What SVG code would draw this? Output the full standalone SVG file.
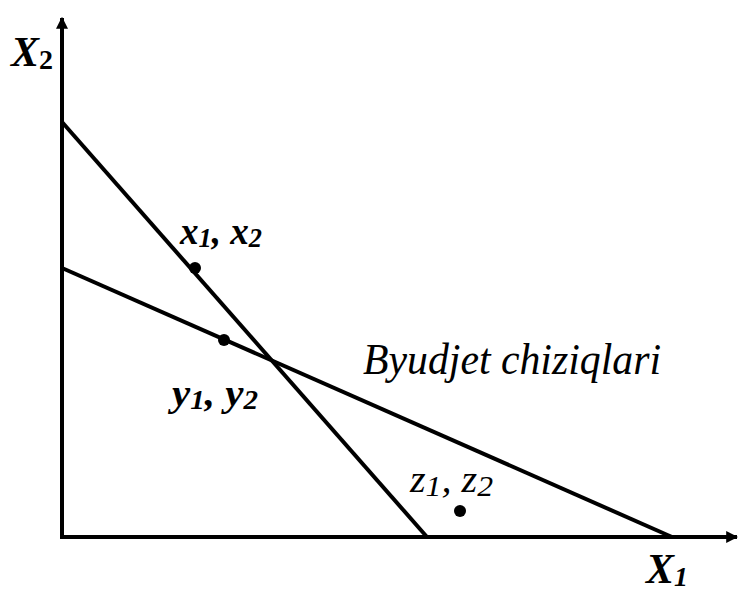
<svg xmlns="http://www.w3.org/2000/svg" width="739" height="591" viewBox="0 0 739 591">
<style>
.ax{stroke:#000;stroke-width:4;fill:none}
.ln{stroke:#000;stroke-width:4;fill:none}
.bi{font-family:"Liberation Serif","Times New Roman",serif;font-weight:bold;font-style:italic;fill:#000}
.it{font-family:"Liberation Serif","Times New Roman",serif;font-style:italic;fill:#000}
</style>
<defs>
<marker id="ah" viewBox="0 0 10 10" refX="9" refY="5" markerWidth="3" markerHeight="3" orient="auto" markerUnits="strokeWidth">
<path d="M0,0 L10,5 L0,10 Z" fill="#000"/>
</marker>
</defs>
<rect width="739" height="591" fill="#fff"/>
<g id="connectors">
<line class="ax" x1="62" y1="539" x2="62" y2="18" marker-end="url(#ah)"/>
<line class="ax" x1="60" y1="537" x2="737" y2="537" marker-end="url(#ah)"/>
<line class="ln" x1="62" y1="122" x2="427" y2="537"/>
<line class="ln" x1="62" y1="268" x2="672" y2="537"/>
</g>
<g id="axis-x2"><text class="bi" x="11" y="66" font-size="42">X<tspan font-size="28" dy="3" font-style="normal">2</tspan></text></g>
<g id="axis-x1"><text class="bi" x="646" y="583" font-size="42">X<tspan font-size="28" dy="3">1</tspan></text></g>
<g id="point-x"><circle cx="195" cy="268" r="6"/><text class="bi" x="180" y="244" font-size="38" textLength="82" lengthAdjust="spacingAndGlyphs">x<tspan font-size="27" dy="3">1</tspan><tspan dy="-3">, x</tspan><tspan font-size="27" dy="3">2</tspan></text></g>
<g id="point-y"><circle cx="224" cy="340" r="6"/><text class="bi" x="172" y="406" font-size="38" textLength="86" lengthAdjust="spacingAndGlyphs">y<tspan font-size="27" dy="3">1</tspan><tspan dy="-3">, y</tspan><tspan font-size="27" dy="3">2</tspan></text></g>
<g id="point-z"><circle cx="460" cy="511" r="6"/><text class="it" x="410" y="492" font-size="38" textLength="83" lengthAdjust="spacingAndGlyphs">z<tspan font-size="30" dy="4">1</tspan><tspan dy="-4">, z</tspan><tspan font-size="30" dy="4">2</tspan></text></g>
<g id="label"><text class="it" x="363" y="374" font-size="44" textLength="298" lengthAdjust="spacingAndGlyphs">Byudjet chiziqlari</text></g>
</svg>
